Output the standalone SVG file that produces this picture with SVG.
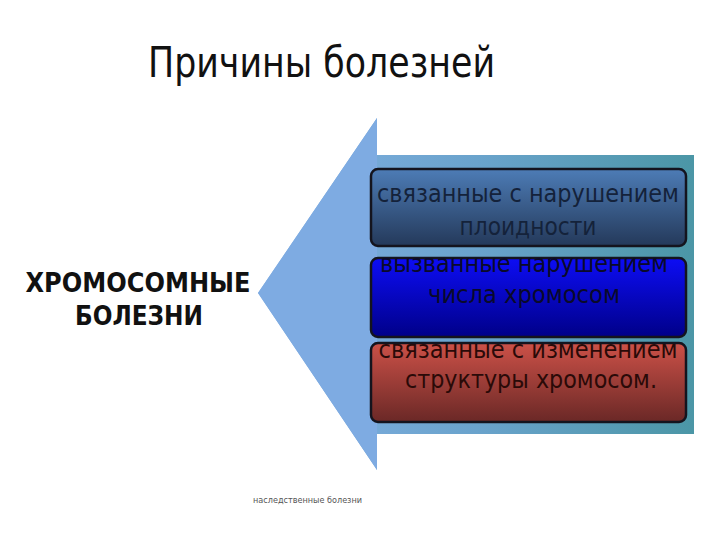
<svg xmlns="http://www.w3.org/2000/svg" width="720" height="540" viewBox="0 0 720 540">
  <style>
    .t { font-family: "DejaVu Sans", Verdana, sans-serif; }
    .box { stroke: #14141e; stroke-width: 2.5; }
    .bt { font-family: "DejaVu Sans", Verdana, sans-serif; font-size: 24px; text-anchor: middle; }
  </style>
  <defs>
    <linearGradient id="body" x1="0" y1="0" x2="1" y2="0">
      <stop offset="0" stop-color="#83b0e4"/>
      <stop offset="0.5" stop-color="#6aa3cc"/>
      <stop offset="1" stop-color="#4b96a6"/>
    </linearGradient>
    <linearGradient id="g1" x1="0" y1="0" x2="0" y2="1">
      <stop offset="0" stop-color="#4d7cb6"/>
      <stop offset="1" stop-color="#24395a"/>
    </linearGradient>
    <linearGradient id="g2" x1="0" y1="0" x2="0" y2="1">
      <stop offset="0" stop-color="#0d0df5"/>
      <stop offset="1" stop-color="#000088"/>
    </linearGradient>
    <linearGradient id="g3" x1="0" y1="0" x2="0" y2="1">
      <stop offset="0" stop-color="#cc5148"/>
      <stop offset="1" stop-color="#6a2826"/>
    </linearGradient>
  </defs>
  <rect width="720" height="540" fill="#ffffff"/>

  <g id="title">
    <text class="t" x="148" y="77" font-size="42" fill="#111" textLength="347" lengthAdjust="spacingAndGlyphs">Причины болезней</text>
  </g>

  <g id="arrow">
    <path d="M377 118 L377 155 L694 155 L694 434 L377 434 L377 470 L258 293 Z" fill="url(#body)"/>
    <path d="M377 118 L377 470 L258 293 Z" fill="#7eabe2"/>
  </g>

  <g id="label-main">
    <text class="t" x="138" y="292" font-size="26" font-weight="bold" fill="#111" text-anchor="middle" textLength="225" lengthAdjust="spacingAndGlyphs">ХРОМОСОМНЫЕ</text>
    <text class="t" x="139" y="325" font-size="26" font-weight="bold" fill="#111" text-anchor="middle" textLength="128" lengthAdjust="spacingAndGlyphs">БОЛЕЗНИ</text>
  </g>

  <g id="box1">
    <rect class="box" x="371" y="169" width="315" height="77" rx="7" fill="url(#g1)"/>
    <text class="bt" x="528" y="202" fill="#14223a" textLength="302" lengthAdjust="spacingAndGlyphs">связанные с нарушением</text>
    <text class="bt" x="528" y="235" fill="#14223a" textLength="137" lengthAdjust="spacingAndGlyphs">плоидности</text>
  </g>

  <g id="box2">
    <rect class="box" x="371" y="258" width="315" height="79" rx="7" fill="url(#g2)"/>
    <text class="bt" x="524" y="272" fill="#0a0a2a" textLength="288" lengthAdjust="spacingAndGlyphs">вызванные нарушением</text>
    <text class="bt" x="524" y="303" fill="#0a0a2a" textLength="192" lengthAdjust="spacingAndGlyphs">числа хромосом</text>
  </g>

  <g id="box3">
    <rect class="box" x="371" y="343" width="315" height="79" rx="7" fill="url(#g3)"/>
    <text class="bt" x="528" y="358" fill="#2a0a08" textLength="299" lengthAdjust="spacingAndGlyphs">связанные с изменением</text>
    <text class="bt" x="531" y="388" fill="#2a0a08" textLength="252" lengthAdjust="spacingAndGlyphs">структуры хромосом.</text>
  </g>

  <g id="footer">
    <text class="t" x="253" y="503" font-size="9" fill="#555" textLength="109" lengthAdjust="spacingAndGlyphs">наследственные болезни</text>
  </g>
</svg>
